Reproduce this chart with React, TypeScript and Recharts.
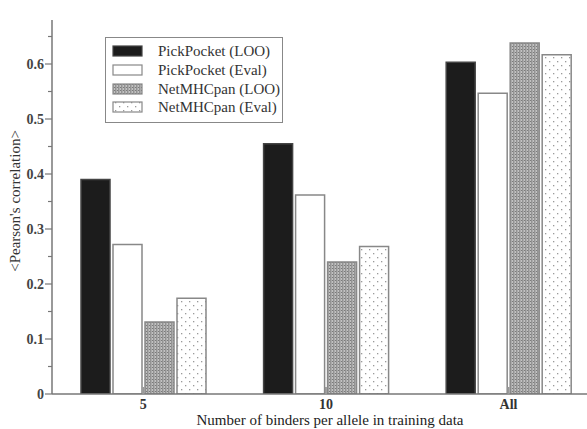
import { Bar, BarChart, XAxis, YAxis } from "recharts";

const groups = ["5", "10", "All"];
const pickLoo = [0.39, 0.455, 0.603];
const pickEval = [0.272, 0.362, 0.547];
const netLoo = [0.131, 0.24, 0.638];
const netEval = [0.174, 0.268, 0.617];
const yTicks = [0, 0.05, 0.1, 0.15, 0.2, 0.25, 0.3, 0.35, 0.4, 0.45, 0.5, 0.55, 0.6, 0.65];

const series = [
  { key: "pickLoo", name: "PickPocket (LOO)", fill: "#1c1c1c", stroke: "#444" },
  { key: "pickEval", name: "PickPocket (Eval)", fill: "#ffffff", stroke: "#888" },
  { key: "netLoo", name: "NetMHCpan (LOO)", fill: "url(#stripes)", stroke: "#888" },
  { key: "netEval", name: "NetMHCpan (Eval)", fill: "url(#dots)", stroke: "#888" }
];

const data = groups.map((g, i) => ({
  x: i + 1,
  label: g,
  pickLoo: pickLoo[i],
  pickEval: pickEval[i],
  netLoo: netLoo[i],
  netEval: netEval[i]
}));

const font = "'Liberation Serif', 'DejaVu Serif', serif";

function YTick(props: any) {
  const { x, y, payload } = props;
  const v = payload.value;
  const major = Math.abs(Math.round(v * 10) - v * 10) < 1e-6;
  return (
    <g>
      <line x1={x - (major ? 7 : 4)} x2={x} y1={y} y2={y} stroke="#777" strokeWidth={1.2} />
      {major && (
        <text x={x - 8} y={y + 5} textAnchor="end" fontSize={14} fontFamily={font} fill="#444" fontWeight="bold">
          {v === 0 ? "0" : v.toFixed(1)}
        </text>
      )}
    </g>
  );
}

function XTick(props: any) {
  const { x, y, payload } = props;
  return (
    <g>
      <line x1={x} x2={x} y1={y} y2={y - 7} stroke="#999" strokeWidth={2} />
      <text x={x} y={y + 14.5} textAnchor="middle" fontSize={14} fontFamily={font} fill="#333" fontWeight="bold">
        {groups[payload.value - 1]}
      </text>
    </g>
  );
}

function YTitle(props: any) {
  const vb = props.viewBox;
  const cx = 15;
  const cy = vb.y + vb.height / 2 - 6;
  return (
    <text
      x={cx}
      y={cy}
      transform={`rotate(-90, ${cx}, ${cy})`}
      textAnchor="middle"
      dominantBaseline="central"
      fontSize={15}
      fontFamily={font}
      fill="#333"
    >
      {"<Pearson's correlation>"}
    </text>
  );
}

function XTitle(props: any) {
  const vb = props.viewBox;
  return (
    <text x={330} y={vb.y + 31} textAnchor="middle" fontSize={15} fontFamily={font} fill="#222">
      Number of binders per allele in training data
    </text>
  );
}

function LegendBox() {
  return (
    <div
      style={{
        position: "absolute",
        left: 105,
        top: 37,
        border: "1.5px solid #888",
        width: 176,
        padding: "4px 0 5px 0",
        background: "#fff",
        fontFamily: font,
        fontSize: 15,
        color: "#333"
      }}
    >
      {series.map((s) => (
        <div key={s.key} style={{ display: "flex", alignItems: "center", height: 18.7 }}>
          <svg width={50} height={12} style={{ flex: "none" }}>
            <rect x={7} y={1} width={29} height={10} fill={s.fill} stroke={s.stroke} strokeWidth={1.2} />
          </svg>
          <span style={{ marginLeft: 2, lineHeight: "18px" }}>{s.name}</span>
        </div>
      ))}
    </div>
  );
}

export default function App() {
  return (
    <div style={{ position: "relative", width: 587, height: 429, background: "#fff" }}>
      <style>{"body{margin:0}"}</style>
      <BarChart
        width={587}
        height={429}
        data={data}
        margin={{ top: 20, right: 0, bottom: 0, left: 0 }}
        barSize={29}
        barGap={3}
      >
        <defs>
          <pattern id="stripes" width={3} height={3} patternUnits="userSpaceOnUse">
            <rect width={3} height={3} fill="#c2c2c2" />
            <rect width={1.5} height={3} fill="#939393" />
            <rect x={2} y={1} width={1} height={1} fill="#7a7a7a" />
          </pattern>
          <pattern id="dots" width={8} height={8} patternUnits="userSpaceOnUse">
            <rect width={8} height={8} fill="#fff" />
            <rect x={1} y={1} width={1.3} height={1.3} fill="#9a9a9a" />
            <rect x={5} y={5} width={1.3} height={1.3} fill="#9a9a9a" />
          </pattern>
        </defs>
        <XAxis
          dataKey="x"
          type="number"
          domain={[0.5, 3.43]}
          ticks={[1, 2, 3]}
          allowDataOverflow
          height={35}
          axisLine={{ stroke: "#777", strokeWidth: 1.5 }}
          tickLine={false}
          tickSize={0}
          tickMargin={0}
          tick={<XTick />}
          label={<XTitle />}
        />
        <YAxis
          type="number"
          domain={[0, 0.68]}
          ticks={yTicks}
          allowDataOverflow
          width={52}
          axisLine={{ stroke: "#777", strokeWidth: 1.5 }}
          tickLine={false}
          tickSize={0}
          tickMargin={0}
          tick={<YTick />}
          label={<YTitle />}
        />
        {series.map((s) => (
          <Bar
            key={s.key}
            dataKey={s.key}
            name={s.name}
            fill={s.fill}
            stroke={s.stroke}
            strokeWidth={1.5}
            isAnimationActive={false}
          />
        ))}
      </BarChart>
      <LegendBox />
    </div>
  );
}
